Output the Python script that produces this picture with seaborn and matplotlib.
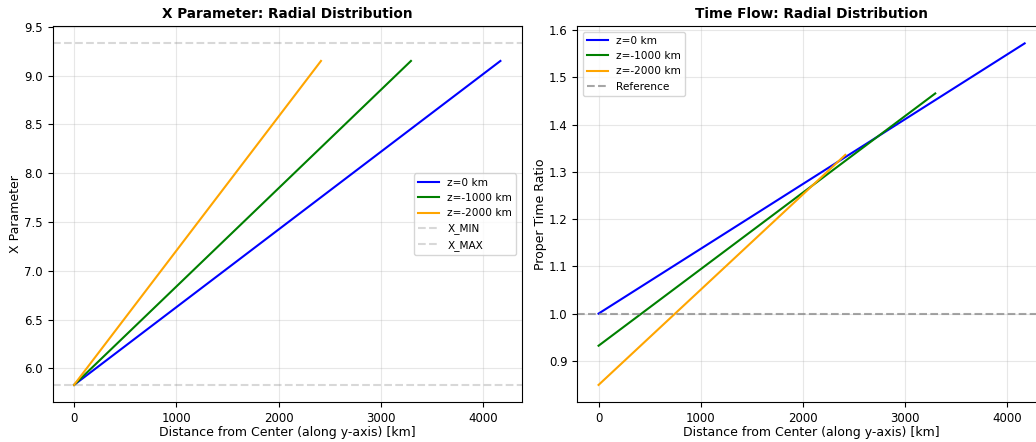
import pandas as pd
import matplotlib
matplotlib.use('Agg')
import matplotlib.pyplot as plt
import seaborn as sns

# series
z_labels = ['z=0 km', 'z=-1000 km', 'z=-2000 km']
line_colors = ['blue', 'green', 'orange']
r_start = [0, 0, 0]
r_end = [4170, 3295, 2415]
x_start = [5.83, 5.83, 5.83]
x_end = [9.15, 9.15, 9.15]
tau_start = [1.0, 0.932, 0.849]
tau_end = [1.572, 1.466, 1.336]

X_MIN = 5.83
X_MAX = 9.33
TAU_REF = 1.0

rows = []
for i, lab in enumerate(z_labels):
    rows.append({'r': r_start[i], 'X': x_start[i], 'tau': tau_start[i], 'label': lab})
    rows.append({'r': r_end[i], 'X': x_end[i], 'tau': tau_end[i], 'label': lab})
df = pd.DataFrame(rows)

plt.rcParams['font.family'] = ['DejaVu Sans']

fig = plt.figure(figsize=(10.36, 4.42), dpi=100)
ax1 = fig.add_axes([0.0509, 0.0905, 0.4527, 0.850])
ax2 = fig.add_axes([0.5572, 0.0905, 0.4524, 0.850])

# X parameter
sns.lineplot(data=df, x='r', y='X', hue='label', hue_order=z_labels,
             palette=line_colors, linewidth=1.5, ax=ax1)
ax1.axhline(X_MIN, color='gray', linestyle='--', alpha=0.3, linewidth=1.5, label='X_MIN')
ax1.axhline(X_MAX, color='gray', linestyle='--', alpha=0.3, linewidth=1.5, label='X_MAX')
ax1.set_title('X Parameter: Radial Distribution', fontsize=9.8, fontweight='bold')
ax1.set_xlabel('Distance from Center (along y-axis) [km]', fontsize=9, labelpad=1)
ax1.set_ylabel('X Parameter', fontsize=9, labelpad=1.5)
ax1.grid(True, alpha=0.3)
ax1.legend(loc='center right', fontsize=7.6)

# Time flow
sns.lineplot(data=df, x='r', y='tau', hue='label', hue_order=z_labels,
             palette=line_colors, linewidth=1.5, ax=ax2)
ax2.axhline(TAU_REF, color='gray', linestyle='--', alpha=0.7, linewidth=1.5, label='Reference')
ax2.set_title('Time Flow: Radial Distribution', fontsize=9.8, fontweight='bold')
ax2.set_xlabel('Distance from Center (along y-axis) [km]', fontsize=9, labelpad=1)
ax2.set_ylabel('Proper Time Ratio', fontsize=9, labelpad=1.5)
ax2.grid(True, alpha=0.3)
ax2.legend(loc='upper left', fontsize=7.6)

for ax in (ax1, ax2):
    ax.tick_params(labelsize=8.5)

fig.savefig('out.png', dpi=100)
